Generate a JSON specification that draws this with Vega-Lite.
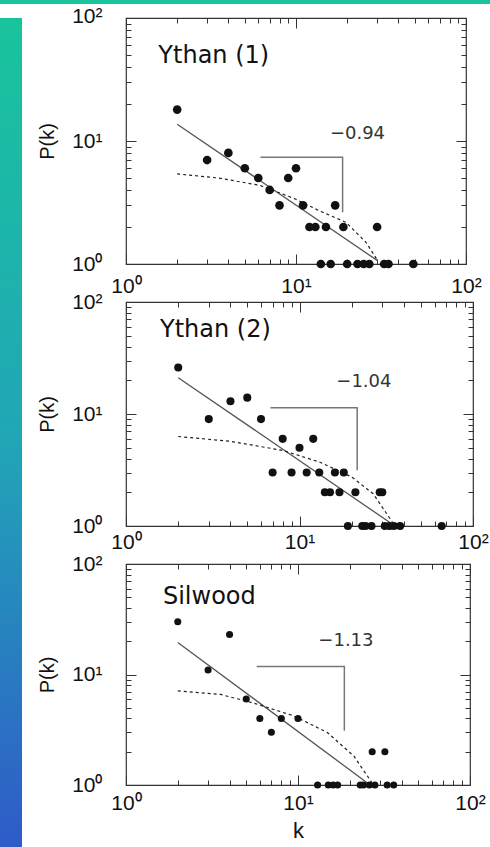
{
  "$schema": "https://vega.github.io/schema/vega-lite/v6.json",
  "background": "white",
  "padding": 0,
  "spacing": 0,
  "config": {
    "axis": {"labelFont": "Liberation Sans", "labelFontSize": 21, "labelColor": "#111", "titleFont": "Liberation Sans", "titleFontSize": 20, "titleFontWeight": "normal", "titleColor": "#111", "tickColor": "#333", "tickWidth": 1, "domain": false, "grid": false},
    "view": {"stroke": "#333", "strokeWidth": 1.2},
    "text": {"font": "DejaVu Sans", "color": "#111"}
  },
  "datasets": {
    "pts1": [
      {"k": 2, "P": 18}, {"k": 3, "P": 7}, {"k": 4, "P": 8}, {"k": 5, "P": 6}, {"k": 6, "P": 5}, {"k": 7, "P": 4}, {"k": 8, "P": 3}, {"k": 9, "P": 5}, {"k": 10, "P": 6}, {"k": 11, "P": 3}, {"k": 12, "P": 2}, {"k": 13, "P": 2}, {"k": 15, "P": 2}, {"k": 17, "P": 3}, {"k": 19, "P": 2}, {"k": 30, "P": 2},
      {"k": 14, "P": 1}, {"k": 16, "P": 1}, {"k": 20, "P": 1}, {"k": 23, "P": 1}, {"k": 25, "P": 1}, {"k": 27, "P": 1}, {"k": 33, "P": 1}, {"k": 35, "P": 1}, {"k": 49, "P": 1}
    ],
    "lines1": [
      {"s": "fit", "i": 0, "k": 2, "P": 13.7}, {"s": "fit", "i": 1, "k": 30.3, "P": 1.06},
      {"s": "exp", "i": 0, "k": 2, "P": 5.4}, {"s": "exp", "i": 1, "k": 3.5, "P": 5.0}, {"s": "exp", "i": 2, "k": 6.1, "P": 4.37}, {"s": "exp", "i": 3, "k": 9.9, "P": 3.38}, {"s": "exp", "i": 4, "k": 13.7, "P": 2.71}, {"s": "exp", "i": 5, "k": 19.7, "P": 2.18}, {"s": "exp", "i": 6, "k": 25.8, "P": 1.5}, {"s": "exp", "i": 7, "k": 30.3, "P": 1.06},
      {"s": "slope", "i": 0, "k": 6.18, "P": 7.37}, {"s": "slope", "i": 1, "k": 18.8, "P": 7.37}, {"s": "slope", "i": 2, "k": 18.8, "P": 2.63}
    ],
    "txt1": [
      {"kind": "name", "t": "Ythan (1)", "k": 1.55, "P": 49},
      {"kind": "slope", "t": "−0.94", "k": 23, "P": 11.4}
    ],
    "pts2": [
      {"k": 2, "P": 26}, {"k": 3, "P": 9}, {"k": 4, "P": 13}, {"k": 5, "P": 14}, {"k": 6, "P": 9}, {"k": 7, "P": 3}, {"k": 8, "P": 6}, {"k": 9, "P": 3}, {"k": 10, "P": 5}, {"k": 11, "P": 3}, {"k": 12, "P": 6}, {"k": 13, "P": 3}, {"k": 14, "P": 2}, {"k": 15, "P": 2}, {"k": 16, "P": 3}, {"k": 17, "P": 2}, {"k": 18, "P": 3}, {"k": 21, "P": 2}, {"k": 29, "P": 2}, {"k": 30, "P": 2},
      {"k": 19, "P": 1}, {"k": 23, "P": 1}, {"k": 24, "P": 1}, {"k": 26, "P": 1}, {"k": 31, "P": 1}, {"k": 33, "P": 1}, {"k": 35, "P": 1}, {"k": 38, "P": 1}, {"k": 66, "P": 1}
    ],
    "lines2": [
      {"s": "fit", "i": 0, "k": 2, "P": 21.1}, {"s": "fit", "i": 1, "k": 35.5, "P": 1.0},
      {"s": "exp", "i": 0, "k": 2, "P": 6.3}, {"s": "exp", "i": 1, "k": 4, "P": 5.7}, {"s": "exp", "i": 2, "k": 8, "P": 4.73}, {"s": "exp", "i": 3, "k": 13, "P": 3.73}, {"s": "exp", "i": 4, "k": 20, "P": 2.74}, {"s": "exp", "i": 5, "k": 26.6, "P": 1.94}, {"s": "exp", "i": 6, "k": 35.5, "P": 1.0},
      {"s": "slope", "i": 0, "k": 6.8, "P": 11.4}, {"s": "slope", "i": 1, "k": 21.5, "P": 11.4}, {"s": "slope", "i": 2, "k": 21.5, "P": 3.14}
    ],
    "txt2": [
      {"kind": "name", "t": "Ythan (2)", "k": 1.57, "P": 55.8},
      {"kind": "slope", "t": "−1.04", "k": 23.5, "P": 19.3}
    ],
    "pts3": [
      {"k": 2, "P": 30}, {"k": 3, "P": 11}, {"k": 4, "P": 23}, {"k": 5, "P": 6}, {"k": 6, "P": 4}, {"k": 7, "P": 3}, {"k": 8, "P": 4}, {"k": 10, "P": 4}, {"k": 27, "P": 2}, {"k": 32, "P": 2},
      {"k": 13, "P": 1}, {"k": 15, "P": 1}, {"k": 16, "P": 1}, {"k": 17, "P": 1}, {"k": 23, "P": 1}, {"k": 24, "P": 1}, {"k": 26, "P": 1}, {"k": 28, "P": 1}, {"k": 33, "P": 1}, {"k": 36, "P": 1}
    ],
    "lines3": [
      {"s": "fit", "i": 0, "k": 2, "P": 19.5}, {"s": "fit", "i": 1, "k": 25.2, "P": 1.05},
      {"s": "exp", "i": 0, "k": 2, "P": 7.1}, {"s": "exp", "i": 1, "k": 3.55, "P": 6.6}, {"s": "exp", "i": 2, "k": 5.55, "P": 5.5}, {"s": "exp", "i": 3, "k": 9.46, "P": 4.22}, {"s": "exp", "i": 4, "k": 14.8, "P": 2.99}, {"s": "exp", "i": 5, "k": 21.1, "P": 1.83}, {"s": "exp", "i": 6, "k": 26.9, "P": 1.05},
      {"s": "slope", "i": 0, "k": 5.75, "P": 11.8}, {"s": "slope", "i": 1, "k": 18.6, "P": 11.8}, {"s": "slope", "i": 2, "k": 18.6, "P": 3.09}
    ],
    "txt3": [
      {"kind": "name", "t": "Silwood", "k": 1.64, "P": 50},
      {"kind": "slope", "t": "−1.13", "k": 19, "P": 20.2}
    ]
  },
  "vconcat": [
    {
      "width": 490,
      "height": 4,
      "view": {"stroke": null, "fill": "#19c49c"},
      "data": {"values": []},
      "mark": "rect"
    },
    {
      "spacing": 15,
      "hconcat": [
        {
          "width": 22,
          "height": 843,
          "view": {"stroke": null, "fill": {"gradient": "linear", "x1": 0, "y1": 0, "x2": 0, "y2": 1, "stops": [{"offset": 0, "color": "#19c49c"}, {"offset": 0.5, "color": "#21a6b7"}, {"offset": 1, "color": "#2f58c9"}]}},
          "data": {"values": []},
          "mark": "rect"
        },
        {
          "vconcat": [
            {
              "width": 340,
              "height": 246,
              "layer": [
                {
                  "data": {"name": "lines1"},
                  "transform": [{"filter": "datum.s == 'fit'"}],
                  "mark": {"type": "line", "color": "#555", "strokeWidth": 1.3},
                  "encoding": {
                    "x": {"field": "k", "type": "quantitative", "scale": {"type": "log", "domain": [1, 100], "nice": false}, "axis": {"orient": "top", "values": [1,2,3,4,5,6,7,8,9,10,20,30,40,50,60,70,80,90,100], "labels": false, "title": null, "tickSize": {"condition": {"test": "datum.value == 1 || datum.value == 10 || datum.value == 100", "value": -10}, "value": -5}}},
                    "y": {"field": "P", "type": "quantitative", "scale": {"type": "log", "domain": [1, 100], "nice": false}, "axis": {"orient": "right", "values": [1,2,3,4,5,6,7,8,9,10,20,30,40,50,60,70,80,90,100], "labels": false, "title": null, "tickSize": {"condition": {"test": "datum.value == 1 || datum.value == 10 || datum.value == 100", "value": -10}, "value": -5}}},
                    "order": {"field": "i"}
                  }
                },
                {
                  "data": {"name": "lines1"},
                  "transform": [{"filter": "datum.s == 'exp'"}],
                  "mark": {"type": "line", "color": "#222", "strokeWidth": 1.2, "strokeDash": [3, 3]},
                  "encoding": {"x": {"field": "k", "type": "quantitative", "axis": null}, "y": {"field": "P", "type": "quantitative", "axis": null}, "order": {"field": "i"}}
                },
                {
                  "data": {"name": "lines1"},
                  "transform": [{"filter": "datum.s == 'slope'"}],
                  "mark": {"type": "line", "color": "#777", "strokeWidth": 1.5},
                  "encoding": {"x": {"field": "k", "type": "quantitative", "axis": null}, "y": {"field": "P", "type": "quantitative", "axis": null}, "order": {"field": "i"}}
                },
                {
                  "data": {"name": "pts1"},
                  "mark": {"type": "circle", "size": 75, "color": "#111", "opacity": 1},
                  "encoding": {
                    "x": {"field": "k", "type": "quantitative", "axis": {"orient": "bottom", "values": [1,2,3,4,5,6,7,8,9,10,20,30,40,50,60,70,80,90,100], "labelExpr": "datum.value == 1 ? '10⁰' : datum.value == 10 ? '10¹' : datum.value == 100 ? '10²' : ''", "labelOverlap": false, "labelFlush": false, "labelBound": false, "labelPadding": 21, "title": null, "tickSize": {"condition": {"test": "datum.value == 1 || datum.value == 10 || datum.value == 100", "value": -10}, "value": -5}}},
                    "y": {"field": "P", "type": "quantitative", "axis": {"orient": "left", "values": [1,2,3,4,5,6,7,8,9,10,20,30,40,50,60,70,80,90,100], "labelExpr": "datum.value == 1 ? '10⁰' : datum.value == 10 ? '10¹' : datum.value == 100 ? '10²' : ''", "labelOverlap": false, "labelPadding": 34, "labelOffset": {"condition": {"test": "datum.value == 100", "value": -2}, "value": 0}, "title": "P(k)", "titlePadding": 14, "tickSize": {"condition": {"test": "datum.value == 1 || datum.value == 10 || datum.value == 100", "value": -10}, "value": -5}}}
                  }
                },
                {
                  "data": {"name": "txt1"},
                  "transform": [{"filter": "datum.kind == 'name'"}],
                  "mark": {"type": "text", "fontSize": 24, "align": "left", "baseline": "middle"},
                  "encoding": {"x": {"field": "k", "type": "quantitative", "axis": null}, "y": {"field": "P", "type": "quantitative", "axis": null}, "text": {"field": "t"}}
                },
                {
                  "data": {"name": "txt1"},
                  "transform": [{"filter": "datum.kind == 'slope'"}],
                  "mark": {"type": "text", "fontSize": 18, "align": "center", "baseline": "middle", "color": "#333"},
                  "encoding": {"x": {"field": "k", "type": "quantitative", "axis": null}, "y": {"field": "P", "type": "quantitative", "axis": null}, "text": {"field": "t"}}
                }
              ],
              "resolve": {"axis": {"x": "independent", "y": "independent"}}
            },
            {
              "width": 347,
              "height": 224,
              "layer": [
                {
                  "data": {"name": "lines2"},
                  "transform": [{"filter": "datum.s == 'fit'"}],
                  "mark": {"type": "line", "color": "#555", "strokeWidth": 1.3},
                  "encoding": {
                    "x": {"field": "k", "type": "quantitative", "scale": {"type": "log", "domain": [1, 100], "nice": false}, "axis": {"orient": "top", "values": [1,2,3,4,5,6,7,8,9,10,20,30,40,50,60,70,80,90,100], "labels": false, "title": null, "tickSize": {"condition": {"test": "datum.value == 1 || datum.value == 10 || datum.value == 100", "value": -10}, "value": -5}}},
                    "y": {"field": "P", "type": "quantitative", "scale": {"type": "log", "domain": [1, 100], "nice": false}, "axis": {"orient": "right", "values": [1,2,3,4,5,6,7,8,9,10,20,30,40,50,60,70,80,90,100], "labels": false, "title": null, "tickSize": {"condition": {"test": "datum.value == 1 || datum.value == 10 || datum.value == 100", "value": -10}, "value": -5}}},
                    "order": {"field": "i"}
                  }
                },
                {
                  "data": {"name": "lines2"},
                  "transform": [{"filter": "datum.s == 'exp'"}],
                  "mark": {"type": "line", "color": "#222", "strokeWidth": 1.2, "strokeDash": [3, 3]},
                  "encoding": {"x": {"field": "k", "type": "quantitative", "axis": null}, "y": {"field": "P", "type": "quantitative", "axis": null}, "order": {"field": "i"}}
                },
                {
                  "data": {"name": "lines2"},
                  "transform": [{"filter": "datum.s == 'slope'"}],
                  "mark": {"type": "line", "color": "#777", "strokeWidth": 1.5},
                  "encoding": {"x": {"field": "k", "type": "quantitative", "axis": null}, "y": {"field": "P", "type": "quantitative", "axis": null}, "order": {"field": "i"}}
                },
                {
                  "data": {"name": "pts2"},
                  "mark": {"type": "circle", "size": 65, "color": "#111", "opacity": 1},
                  "encoding": {
                    "x": {"field": "k", "type": "quantitative", "axis": {"orient": "bottom", "values": [1,2,3,4,5,6,7,8,9,10,20,30,40,50,60,70,80,90,100], "labelExpr": "datum.value == 1 ? '10⁰' : datum.value == 10 ? '10¹' : datum.value == 100 ? '10²' : ''", "labelOverlap": false, "labelFlush": false, "labelBound": false, "labelPadding": 15, "title": null, "tickSize": {"condition": {"test": "datum.value == 1 || datum.value == 10 || datum.value == 100", "value": -10}, "value": -5}}},
                    "y": {"field": "P", "type": "quantitative", "axis": {"orient": "left", "values": [1,2,3,4,5,6,7,8,9,10,20,30,40,50,60,70,80,90,100], "labelExpr": "datum.value == 1 ? '10⁰' : datum.value == 10 ? '10¹' : datum.value == 100 ? '10²' : ''", "labelOverlap": false, "labelPadding": 34, "title": "P(k)", "titlePadding": 14, "tickSize": {"condition": {"test": "datum.value == 1 || datum.value == 10 || datum.value == 100", "value": -10}, "value": -5}}}
                  }
                },
                {
                  "data": {"name": "txt2"},
                  "transform": [{"filter": "datum.kind == 'name'"}],
                  "mark": {"type": "text", "fontSize": 24, "align": "left", "baseline": "middle"},
                  "encoding": {"x": {"field": "k", "type": "quantitative", "axis": null}, "y": {"field": "P", "type": "quantitative", "axis": null}, "text": {"field": "t"}}
                },
                {
                  "data": {"name": "txt2"},
                  "transform": [{"filter": "datum.kind == 'slope'"}],
                  "mark": {"type": "text", "fontSize": 18, "align": "center", "baseline": "middle", "color": "#333"},
                  "encoding": {"x": {"field": "k", "type": "quantitative", "axis": null}, "y": {"field": "P", "type": "quantitative", "axis": null}, "text": {"field": "t"}}
                }
              ],
              "resolve": {"axis": {"x": "independent", "y": "independent"}}
            },
            {
              "width": 344,
              "height": 221,
              "layer": [
                {
                  "data": {"name": "lines3"},
                  "transform": [{"filter": "datum.s == 'fit'"}],
                  "mark": {"type": "line", "color": "#555", "strokeWidth": 1.3},
                  "encoding": {
                    "x": {"field": "k", "type": "quantitative", "scale": {"type": "log", "domain": [1, 100], "nice": false}, "axis": {"orient": "top", "values": [1,2,3,4,5,6,7,8,9,10,20,30,40,50,60,70,80,90,100], "labels": false, "title": null, "tickSize": {"condition": {"test": "datum.value == 1 || datum.value == 10 || datum.value == 100", "value": -10}, "value": -5}}},
                    "y": {"field": "P", "type": "quantitative", "scale": {"type": "log", "domain": [1, 100], "nice": false}, "axis": {"orient": "right", "values": [1,2,3,4,5,6,7,8,9,10,20,30,40,50,60,70,80,90,100], "labels": false, "title": null, "tickSize": {"condition": {"test": "datum.value == 1 || datum.value == 10 || datum.value == 100", "value": -10}, "value": -5}}},
                    "order": {"field": "i"}
                  }
                },
                {
                  "data": {"name": "lines3"},
                  "transform": [{"filter": "datum.s == 'exp'"}],
                  "mark": {"type": "line", "color": "#222", "strokeWidth": 1.2, "strokeDash": [3, 3]},
                  "encoding": {"x": {"field": "k", "type": "quantitative", "axis": null}, "y": {"field": "P", "type": "quantitative", "axis": null}, "order": {"field": "i"}}
                },
                {
                  "data": {"name": "lines3"},
                  "transform": [{"filter": "datum.s == 'slope'"}],
                  "mark": {"type": "line", "color": "#777", "strokeWidth": 1.5},
                  "encoding": {"x": {"field": "k", "type": "quantitative", "axis": null}, "y": {"field": "P", "type": "quantitative", "axis": null}, "order": {"field": "i"}}
                },
                {
                  "data": {"name": "pts3"},
                  "mark": {"type": "circle", "size": 50, "color": "#111", "opacity": 1},
                  "encoding": {
                    "x": {"field": "k", "type": "quantitative", "axis": {"orient": "bottom", "values": [1,2,3,4,5,6,7,8,9,10,20,30,40,50,60,70,80,90,100], "labelExpr": "datum.value == 1 ? '10⁰' : datum.value == 10 ? '10¹' : datum.value == 100 ? '10²' : ''", "labelOverlap": false, "labelFlush": false, "labelBound": false, "labelPadding": 17, "title": "k", "titleFontSize": 22, "titlePadding": 2, "tickSize": {"condition": {"test": "datum.value == 1 || datum.value == 10 || datum.value == 100", "value": -10}, "value": -5}}},
                    "y": {"field": "P", "type": "quantitative", "axis": {"orient": "left", "values": [1,2,3,4,5,6,7,8,9,10,20,30,40,50,60,70,80,90,100], "labelExpr": "datum.value == 1 ? '10⁰' : datum.value == 10 ? '10¹' : datum.value == 100 ? '10²' : ''", "labelOverlap": false, "labelPadding": 34, "title": "P(k)", "titlePadding": 14, "tickSize": {"condition": {"test": "datum.value == 1 || datum.value == 10 || datum.value == 100", "value": -10}, "value": -5}}}
                  }
                },
                {
                  "data": {"name": "txt3"},
                  "transform": [{"filter": "datum.kind == 'name'"}],
                  "mark": {"type": "text", "fontSize": 24, "align": "left", "baseline": "middle"},
                  "encoding": {"x": {"field": "k", "type": "quantitative", "axis": null}, "y": {"field": "P", "type": "quantitative", "axis": null}, "text": {"field": "t"}}
                },
                {
                  "data": {"name": "txt3"},
                  "transform": [{"filter": "datum.kind == 'slope'"}],
                  "mark": {"type": "text", "fontSize": 18, "align": "center", "baseline": "middle", "color": "#333"},
                  "encoding": {"x": {"field": "k", "type": "quantitative", "axis": null}, "y": {"field": "P", "type": "quantitative", "axis": null}, "text": {"field": "t"}}
                }
              ],
              "resolve": {"axis": {"x": "independent", "y": "independent"}}
            }
          ],
          "spacing": 38,
          "bounds": "flush"
        }
      ]
    }
  ]
}
